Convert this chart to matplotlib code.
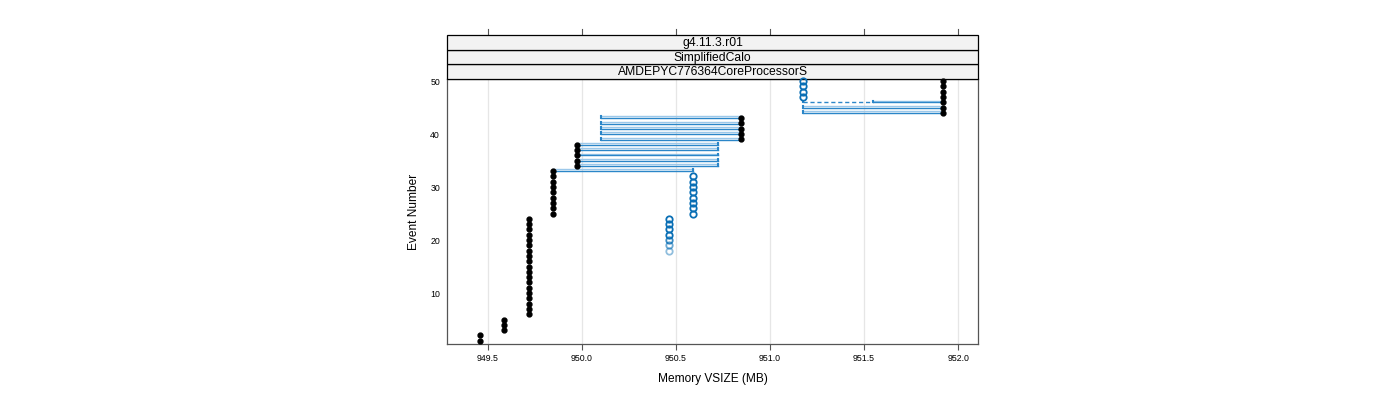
import matplotlib
matplotlib.use("Agg")
import matplotlib.pyplot as plt
import matplotlib.transforms as mtransforms
from matplotlib.patches import Rectangle

plt.rcParams['font.family'] = ['Liberation Sans', 'DejaVu Sans']

# ---- data ----
events = list(range(1, 51))
vsize_end = ([949.457] * 2 + [949.585] * 3 + [949.718] * 19 + [949.846] * 9 +
             [949.973] * 5 + [950.846] * 5 + [951.920] * 7)

circle_events = [18, 19, 20, 21, 22, 23, 24,
                 25, 26, 27, 28, 29, 30, 31, 32,
                 47, 48, 49, 50]
circle_x = [950.463] * 7 + [950.590] * 8 + [951.176] * 4
circle_alpha = [0.45, 0.6, 0.8, 1, 1, 1, 1] + [1] * 8 + [1] * 4

# segments: event, x_from, x_to, head side ('end' or 'start')
seg_event = [33, 34, 35, 36, 37, 38, 39, 40, 41, 42, 43, 44, 45, 46]
seg_x0 = [949.846] + [949.973] * 5 + [950.101] * 5 + [951.176, 951.176, 951.548]
seg_x1 = [950.590] + [950.723] * 5 + [950.846] * 5 + [951.920, 951.920, 951.920]
seg_head = ['end'] * 6 + ['start'] * 8
dash_event = [46]
dash_x0 = [951.176]
dash_x1 = [951.548]

xticks = [949.5, 950.0, 950.5, 951.0, 951.5, 952.0]
xticklabels = ["949.5", "950.0", "950.5", "951.0", "951.5", "952.0"]
yticks = [10, 20, 30, 40, 50]
strips = ["g4.11.3.r01", "SimplifiedCalo", "AMDEPYC776364CoreProcessorS"]

# ---- figure ----
W, H = 1400, 400
fig = plt.figure(figsize=(14, 4), dpi=100)
L, R, T, B = 447, 978, 79, 344
ax = fig.add_axes([L / W, 1 - B / H, (R - L) / W, (B - T) / H])
ax.set_xlim(949.282, 952.106)
ax.set_ylim(0.38, 50.38)

dark = "#2b86c8"
light = "#9cc8ea"
circ = "#0a6fb5"

for xv in xticks:
    ax.axvline(xv, color="#e6e6e6", lw=0.9, zorder=0)

for e, x0, x1, hd in zip(seg_event, seg_x0, seg_x1, seg_head):
    ax.plot([x0, x1], [e + 0.32, e + 0.32], color=light, lw=1.0, zorder=2)
    ax.plot([x0, x1], [e - 0.05, e - 0.05], color=dark, lw=1.0, zorder=2)
    hx = x1 if hd == 'end' else x0
    ax.plot([hx, hx], [e - 0.05, e + 0.32], color=dark, lw=1.5, zorder=2)

for e, x0, x1 in zip(dash_event, dash_x0, dash_x1):
    ax.plot([x0, x1], [e + 0.1, e + 0.1], color=dark, lw=1.0,
            linestyle=(0, (3, 2)), zorder=2)
    ax.plot([x0, x0], [e - 0.05, e + 0.3], color=dark, lw=1.5, zorder=2)

for x, e, a in zip(circle_x, circle_events, circle_alpha):
    ax.plot([x], [e], marker="o", ms=4.6, mfc="none", mec=circ, mew=1.3,
            alpha=a, linestyle="none", zorder=6, clip_on=False)

ax.plot(vsize_end, events, marker="o", ms=3.5, color="black",
        linestyle="none", zorder=7, clip_on=False)

ax.set_xticks(xticks)
ax.set_xticklabels(xticklabels)
ax.set_yticks(yticks)
ax.tick_params(axis="x", direction="out", length=4.5, width=0.8,
               color="#555555", labelsize=6.3, pad=3)
ax.tick_params(axis="y", length=0, labelsize=6.3, pad=5)
for s in ax.spines.values():
    s.set_color("#555555")
    s.set_linewidth(0.9)

ax.set_xlabel("Memory VSIZE (MB)", fontsize=8.6, labelpad=7)
ax.set_ylabel("Event Number", fontsize=8.6, labelpad=7)

# strips
sh = 14.67 / (B - T)
for i, txt in enumerate(reversed(strips)):
    y0 = 1 + i * sh
    ax.add_patch(Rectangle((0, y0), 1, sh, transform=ax.transAxes,
                           facecolor="#f2f2f2", edgecolor="black", lw=0.9,
                           clip_on=False, zorder=4))
    ax.text(0.5, y0 + sh / 2 - 0.003, txt, transform=ax.transAxes, ha="center",
            va="center", fontsize=8.7, zorder=5, clip_on=False)

# top ticks above strips
trans = mtransforms.blended_transform_factory(ax.transData, ax.transAxes)
top = 1 + 3 * sh
for xv in xticks:
    ax.plot([xv, xv], [top, top + 6 / (B - T)], transform=trans,
            color="#555555", lw=0.8, clip_on=False)

fig.savefig("out.png", dpi=100)
